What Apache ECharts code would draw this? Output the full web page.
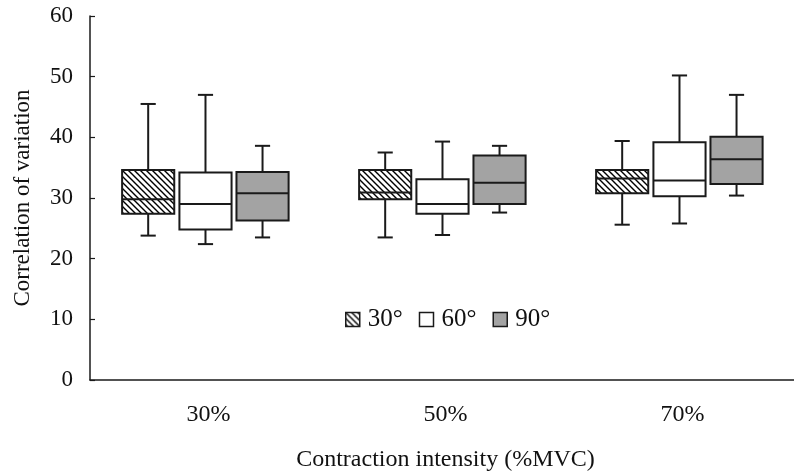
<!DOCTYPE html>
<html>
<head>
<meta charset="utf-8">
<script src="https://cdn.jsdelivr.net/npm/echarts@6/dist/echarts.min.js"></script>
<style>html,body{margin:0;padding:0;background:#fff;}#c{width:794px;height:472px;}</style>
</head>
<body>
<div id="c"></div>
<script>
// ---- data ----
var categories = ['30%', '50%', '70%'];
var seriesNames = ['30°', '60°', '90°'];
// each item: [min, Q1, median, Q3, max]
var series30 = [[23.8, 27.4, 29.8, 34.6, 45.5], [23.5, 29.8, 30.9, 34.6, 37.5], [25.6, 30.8, 33.2, 34.6, 39.4]];
var series60 = [[22.4, 24.8, 29.0, 34.2, 47.0], [23.9, 27.4, 29.0, 33.1, 39.3], [25.8, 30.3, 32.9, 39.2, 50.2]];
var series90 = [[23.5, 26.3, 30.8, 34.3, 38.6], [27.6, 29.0, 32.5, 37.0, 38.6], [30.4, 32.3, 36.4, 40.1, 47.0]];
var yTicks = [0, 10, 20, 30, 40, 50, 60];

// ---- styles / layout ----
var FONT = 'Liberation Serif';
var LINE = '#1a1a1a';
var TEXT = '#111';
var OFFS = [-0.2545, -0.0127, 0.228];
var BOXW = 0.22, CAPW = 0.064;

function hatch() {
  var c = document.createElement('canvas');
  c.width = 6; c.height = 6;
  var g = c.getContext('2d');
  g.fillStyle = '#fff'; g.fillRect(0, 0, 6, 6);
  g.strokeStyle = '#000'; g.lineWidth = 1.4;
  g.beginPath();
  g.moveTo(-1, -1); g.lineTo(7, 7);
  g.moveTo(-1, 5); g.lineTo(1, 7);
  g.moveTo(5, -1); g.lineTo(7, 1);
  g.stroke();
  return { image: c, repeat: 'repeat' };
}
var FILLS = [hatch(), '#ffffff', '#a3a3a3'];

function toData(arr) {
  return arr.map(function (v, i) { return [i].concat(v); });
}

function makeRender(k) {
  return function (params, api) {
    var idx = api.value(0);
    var band = api.size([1, 0])[0];
    var cx = api.coord([idx, 0])[0] + band * OFFS[k];
    var w = band * BOXW, cap = band * CAPW;
    var y = [1, 2, 3, 4, 5].map(function (d) { return api.coord([idx, api.value(d)])[1]; });
    var ls = { stroke: LINE, lineWidth: 2 };
    return {
      type: 'group',
      children: [
        { type: 'line', shape: { x1: cx, y1: y[4], x2: cx, y2: y[3] }, style: ls },
        { type: 'line', shape: { x1: cx, y1: y[1], x2: cx, y2: y[0] }, style: ls },
        { type: 'line', shape: { x1: cx - cap / 2, y1: y[4], x2: cx + cap / 2, y2: y[4] }, style: ls },
        { type: 'line', shape: { x1: cx - cap / 2, y1: y[0], x2: cx + cap / 2, y2: y[0] }, style: ls },
        { type: 'rect', shape: { x: cx - w / 2, y: y[3], width: w, height: y[1] - y[3] },
          style: { fill: FILLS[k], stroke: LINE, lineWidth: 2 } },
        { type: 'line', shape: { x1: cx - w / 2, y1: y[2], x2: cx + w / 2, y2: y[2] }, style: ls }
      ]
    };
  };
}

var allSeries = [series30, series60, series90];
var chart = echarts.init(document.getElementById('c'));
chart.setOption({
  animation: false,
  backgroundColor: '#fff',
  grid: { left: 90, top: 16, bottom: 92, right: -7, containLabel: false, outerBoundsMode: 'none' },
  legend: {
    left: 345, top: 307, padding: 0, itemGap: 16, itemWidth: 14, itemHeight: 14,
    icon: 'rect',
    textStyle: { fontFamily: FONT, fontSize: 25, color: TEXT, padding: [0, 0, 0, 3] },
    data: seriesNames.map(function (n, k) {
      return { name: n, itemStyle: { color: FILLS[k], borderColor: LINE, borderWidth: 1.5 } };
    })
  },
  xAxis: {
    type: 'category', data: categories, boundaryGap: true,
    name: 'Contraction intensity (%MVC)', nameLocation: 'middle', nameGap: 68,
    nameTextStyle: { fontFamily: FONT, fontSize: 24, color: TEXT },
    axisLine: { lineStyle: { color: LINE, width: 1.5 } },
    axisTick: { inside: true, length: 6, lineStyle: { color: LINE, width: 1.2 } },
    axisLabel: { fontFamily: FONT, fontSize: 24, color: TEXT, margin: 23 }
  },
  yAxis: {
    type: 'value', min: yTicks[0], max: yTicks[yTicks.length - 1], interval: 10,
    name: 'Correlation of variation', nameLocation: 'middle', nameGap: 56,
    nameTextStyle: { fontFamily: FONT, fontSize: 23, color: TEXT },
    axisLine: { show: true, lineStyle: { color: LINE, width: 1.5 } },
    axisTick: { show: true, inside: true, length: 5, lineStyle: { color: LINE, width: 1.2 } },
    axisLabel: { fontFamily: FONT, fontSize: 23, color: TEXT, margin: 17 },
    splitLine: { show: false }
  },
  series: allSeries.map(function (s, k) {
    return {
      type: 'custom', name: seriesNames[k],
      itemStyle: { color: FILLS[k], borderColor: LINE, borderWidth: 1.5 },
      encode: { x: 0, y: [1, 2, 3, 4, 5] },
      renderItem: makeRender(k),
      data: toData(s)
    };
  })
});
</script>
</body>
</html>
